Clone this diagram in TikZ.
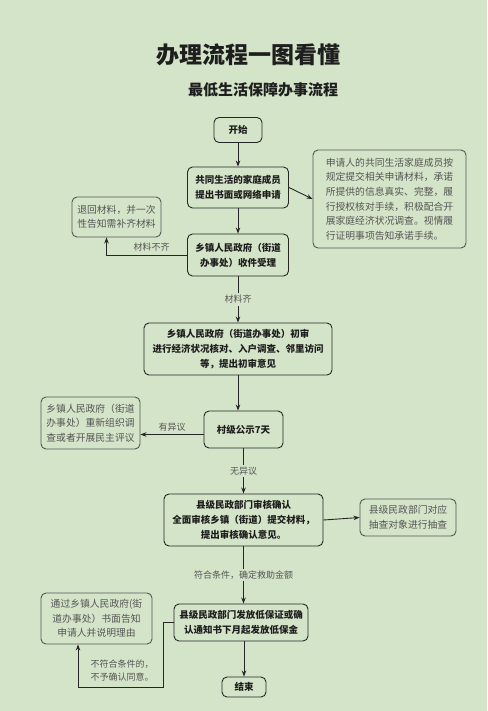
\documentclass[tikz,border=0pt]{standalone}
\usepackage{fontspec}
\newfontfamily\cjk{Noto Sans CJK SC}
\usetikzlibrary{arrows.meta, positioning}
\definecolor{cbg}{HTML}{D4E4C8}
\definecolor{cline}{HTML}{262626}
\definecolor{cnote}{HTML}{555555}
\definecolor{ctext}{HTML}{1E1E1E}
\tikzset{
  every picture/.style={line width=0.9pt},
  box/.style={draw=cline, fill=cbg, rounded corners=5pt, align=center, inner sep=2pt,
    text=ctext, font=\cjk\bfseries\fontsize{9.5}{15}\selectfont},
  note/.style={draw=cnote, fill=cbg, rounded corners=5pt, align=center, inner sep=2pt,
    text=cnote, font=\cjk\fontsize{9.8}{14.6}\selectfont},
  arrow/.style={-{Stealth[length=6pt, width=4.5pt]}, draw=cline},
  lbl/.style={font=\cjk\fontsize{9}{13}\selectfont, text=cnote, fill=cbg, inner sep=2pt},
}

\begin{document}
\begin{tikzpicture}[x=1pt, y=-1pt]
  \fill[cbg] (0,0) rectangle (487,711);
  \useasboundingbox (0,0) rectangle (487,711);

  % titles
  \node[font=\cjk\bfseries\fontsize{23}{23}\selectfont, text=ctext] (title) at (248,55) {办理流程一图看懂};
  \node[font=\cjk\bfseries\fontsize{15}{15}\selectfont, text=ctext] (subtitle) at (263,90) {最低生活保障办事流程};

  % main steps
  \node[box, minimum width=48pt, minimum height=25pt] (start) at (238,130) {开始};
  \node[box, minimum width=101pt, minimum height=41pt] (apply) at (238,187.5) {共同生活的家庭成员\\提出书面或网络申请};
  \node[box, minimum width=101pt, minimum height=42pt] (accept) at (238,255) {乡镇人民政府（街道\\办事处）收件受理};
  \node[box, minimum width=188pt, minimum height=52pt] (first) at (238,349) {乡镇人民政府（街道办事处）初审\\进行经济状况核对、入户调查、邻里访问\\等，提出初审意见};
  \node[box, minimum width=79pt, minimum height=37pt] (pub) at (243.5,429.5) {村级公示7天};
  \node[box, minimum width=159pt, minimum height=52pt] (county) at (243.5,520) {县级民政部门审核确认\\全面审核乡镇（街道）提交材料，\\提出审核确认意见。};
  \node[box, minimum width=134pt, minimum height=37pt] (issue) at (241,622.5) {县级民政部门发放低保证或确\\认通知书下月起发放低保金};
  \node[box, minimum width=44pt, minimum height=20pt] (end) at (244,687) {结束};

  % side notes
  \node[note, align=left, minimum width=153pt, minimum height=98pt] (promise) at (389.5,199) {申请人的共同生活家庭成员按\\规定提交相关申请材料，承诺\\所提供的信息真实、完整，履\\行授权核对手续，积极配合开\\展家庭经济状况调查。视情履\\行证明事项告知承诺手续。};
  \node[note, minimum width=89pt, minimum height=40pt] (back) at (116.5,217) {退回材料，并一次\\性告知需补齐材料};
  \node[note, minimum width=99pt, minimum height=52pt] (redo) at (90.5,423) {乡镇人民政府（街道\\办事处）重新组织调\\查或者开展民主评议};
  \node[note, minimum width=96pt, minimum height=37pt] (check) at (408,517.5) {县级民政部门对应\\抽查对象进行抽查};
  \node[note, minimum width=111pt, minimum height=51pt] (deny) at (96.5,618.5) {通过乡镇人民政府(街\\道办事处）书面告知\\申请人并说明理由};

  % connectors
  \draw[arrow] (start) -- (apply);
  \draw[arrow] (apply) -- (accept);
  \draw[arrow] (apply.east) -- (promise.west);
  \draw[arrow] (accept.west) -| ([xshift=-10pt]back.south) node[lbl, pos=0.22, above=1pt, fill=none] {材料不齐};
  \draw[arrow] (accept) -- (first) node[lbl, midway] {材料齐};
  \draw[arrow] (first.south) -- (first.south |- pub.north);
  \draw[arrow] ([yshift=-5pt]pub.west) -- ([yshift=-5pt]pub.west -| redo.east) node[lbl, midway, above=1pt, fill=none] {有异议};
  \draw[arrow] (pub) -- (county) node[lbl, midway] {无异议};
  \draw[arrow] (county.east) -- (check.west);
  \draw[arrow] (county.south -| issue.north) ++(2.5,0) coordinate (ctop) -- (ctop |- issue.north) node[lbl, midway] {符合条件，确定救助金额};
  \draw[arrow] (issue.south -| end.north) -- (end.north);
  \coordinate (bend) at (163,687);
  \draw[arrow] (issue.west) -| (bend) -| ([xshift=-18.5pt]deny.south);
  \node[lbl, fill=none, align=left] (denylbl) at (122,671) {不符合条件的，\\不予确认同意。};
\end{tikzpicture}
\end{document}
